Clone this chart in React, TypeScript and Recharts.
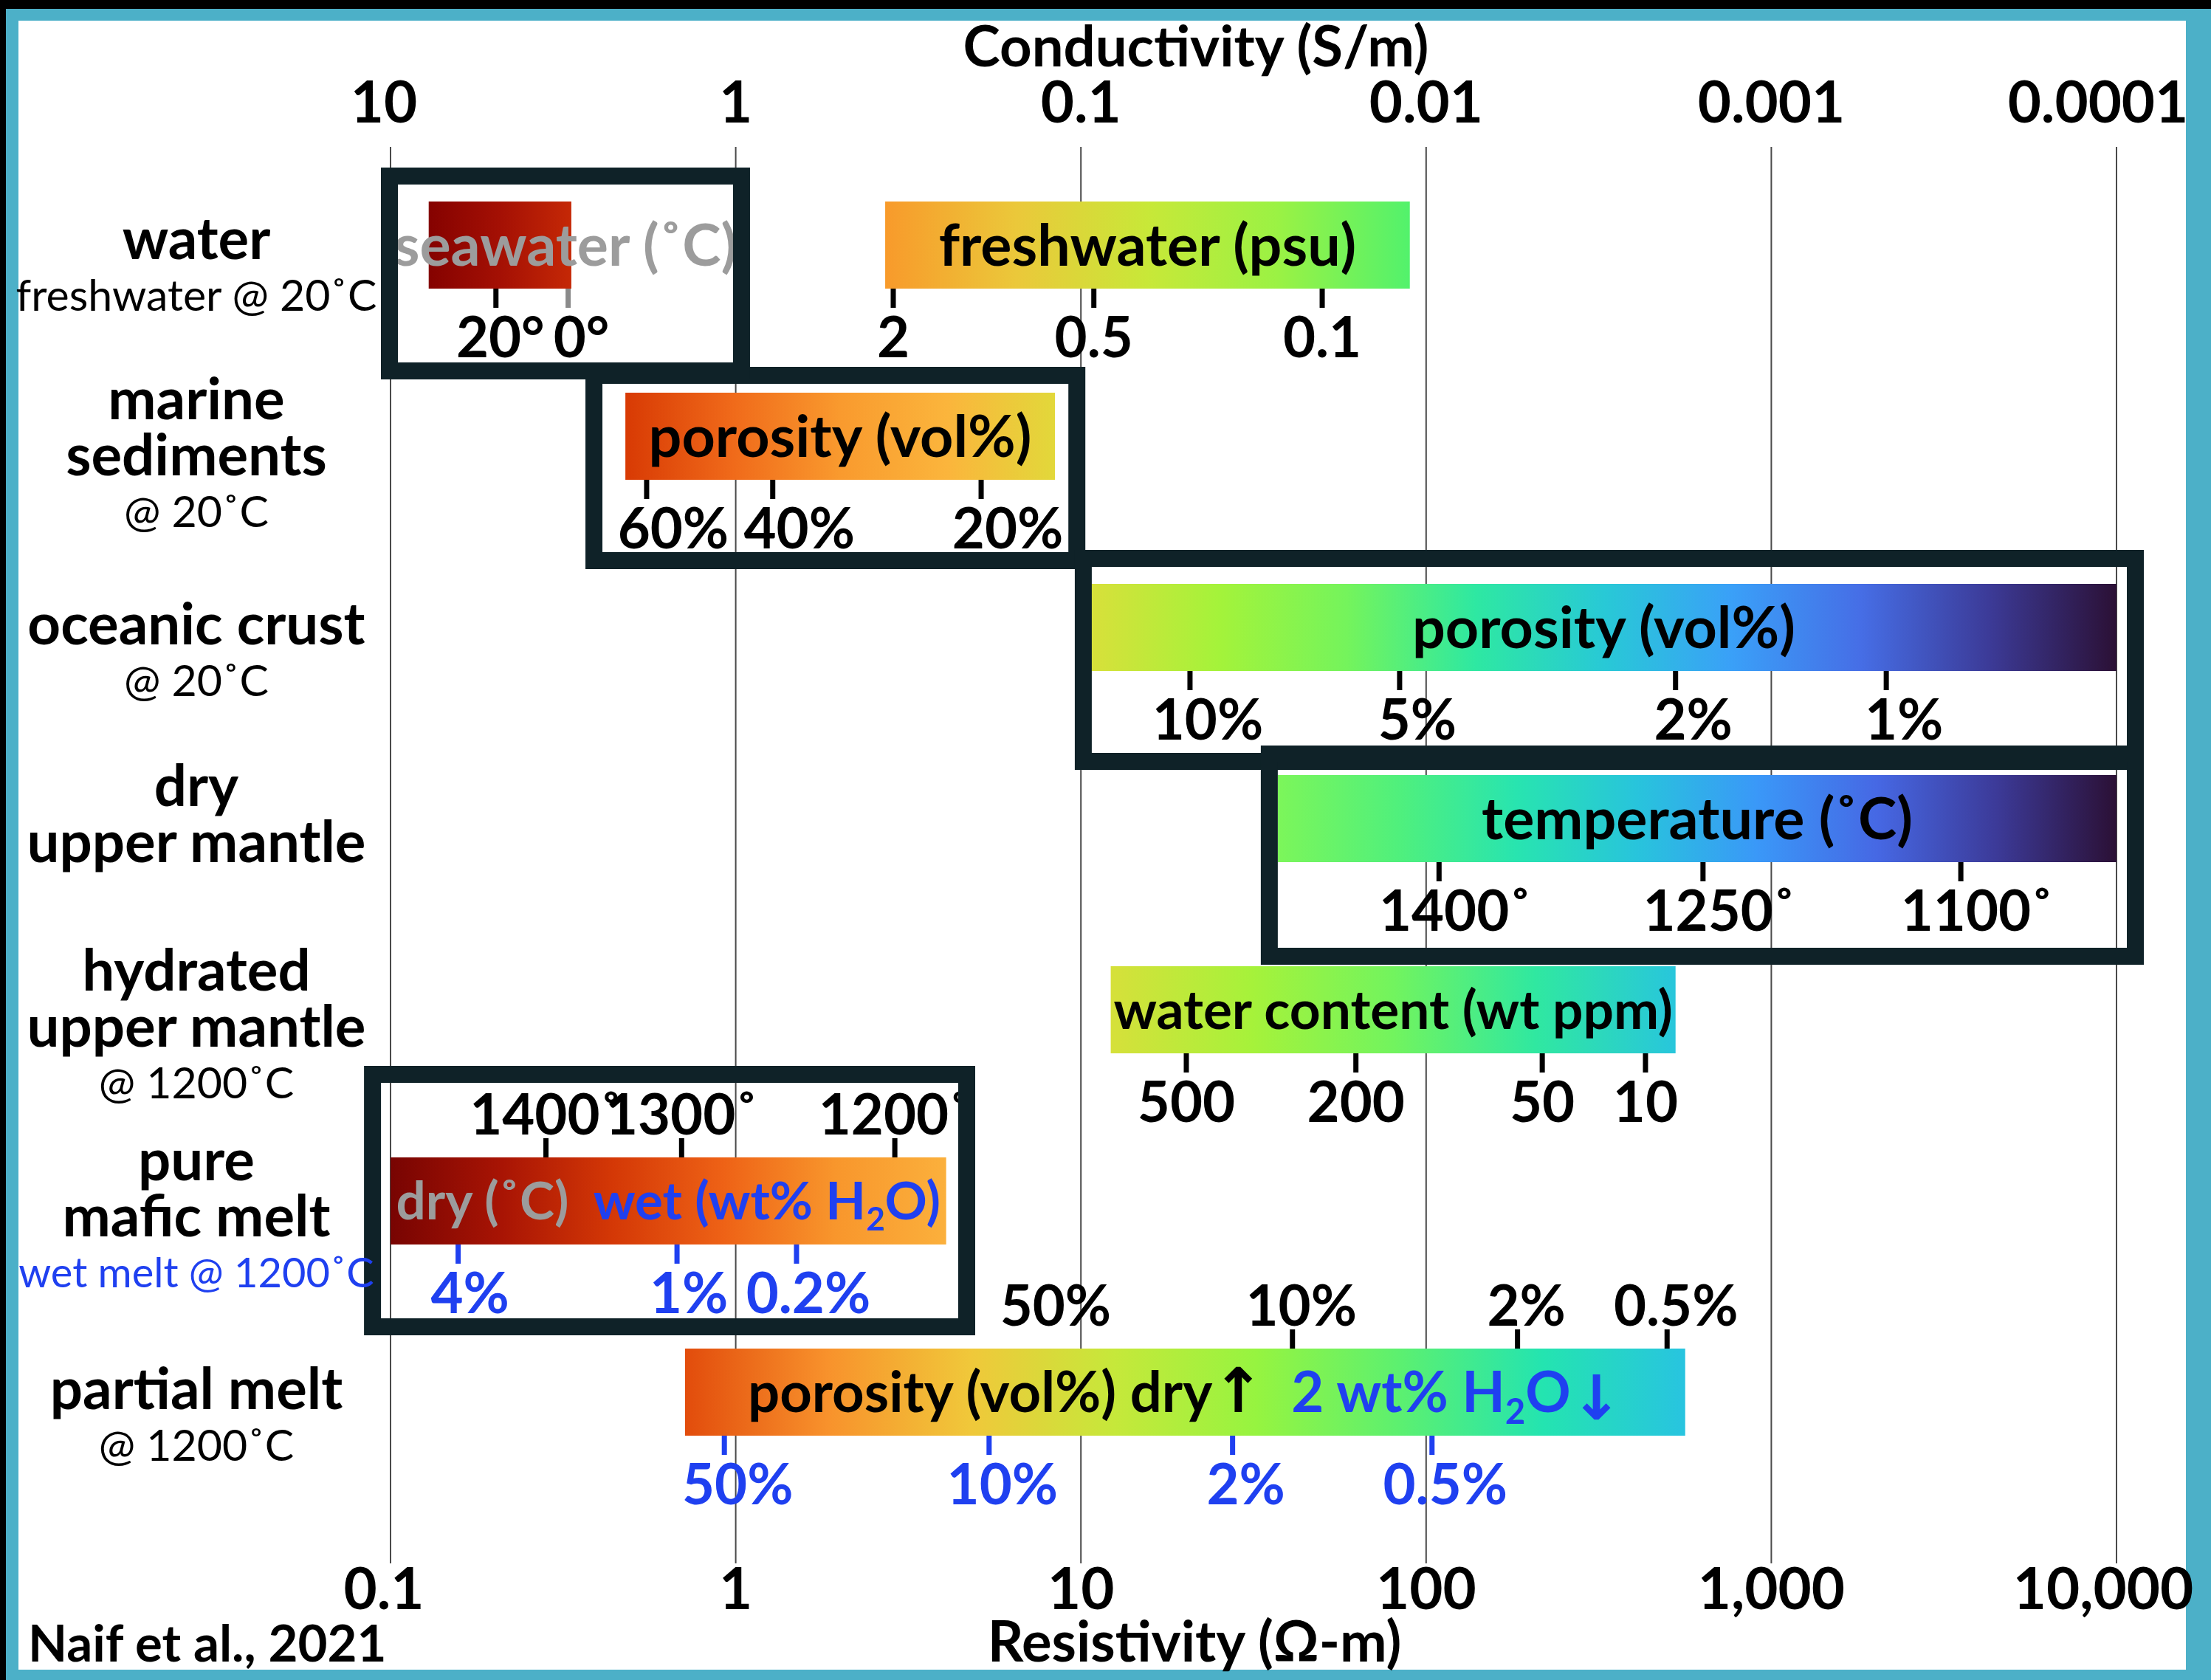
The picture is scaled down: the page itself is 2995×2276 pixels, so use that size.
import React from 'react';
import { BarChart, Bar, XAxis, YAxis, CartesianGrid } from 'recharts';

const categories = [
  'water',
  'marine sediments',
  'oceanic crust',
  'dry upper mantle',
  'hydrated upper mantle',
  'pure mafic melt',
  'partial melt',
];

// left captions: b = bold, s = small, w = small blue
const rowCaptions: [string, string][][] = [
  [['water', 'b'], ['freshwater @ 20˚C', 's']],
  [['marine', 'b'], ['sediments', 'b'], ['@ 20˚C', 's']],
  [['oceanic crust', 'b'], ['@ 20˚C', 's']],
  [['dry', 'b'], ['upper mantle', 'b']],
  [['hydrated', 'b'], ['upper mantle', 'b'], ['@ 1200˚C', 's']],
  [['pure', 'b'], ['mafic melt', 'b'], ['wet melt @ 1200˚C', 'w']],
  [['partial melt', 'b'], ['@ 1200˚C', 's']],
];

// resistivity span of each bar (ohm-m)
const rangeLow = [2.71, 0.479, 10.7, 37.2, 12.2, 0.1, 0.713];
const rangeHigh = [89.7, 8.41, 10000, 10000, 528, 4.07, 563];
const seawaterRange = [0.129, 0.334];
const seawaterTicks: [number, string][] = [[0.202, '20°'], [0.327, '0°']];

// text inside the bars: k = black, g = grey, u = blue
const barTitles: [string, string][][] = [
  [['freshwater (psu)', 'k']],
  [['porosity (vol%)', 'k']],
  [['porosity (vol%)', 'k']],
  [['temperature (˚C)', 'k']],
  [['water content (wt ppm)', 'k']],
  [['dry (˚C)', 'g'], ['  wet (wt% H_2O)', 'u']],
  [['porosity (vol%) dry', 'k'], ['↑', 'k'], ['  2 wt% H_2O', 'u'], ['↓', 'u']],
];
const seawaterTitle = 'seawater (˚C)';

// [resistivity, label, has tick mark]
const ticksBelow: [number, string, boolean][][] = [
  [[2.86, '2', true], [10.9, '0.5', true], [50.0, '0.1', true]],
  [[0.552, '60%', true], [1.28, '40%', true], [5.14, '20%', true]],
  [[20.7, '10%', true], [83.8, '5%', true], [528, '2%', true], [2153, '1%', true]],
  [[109, '1400˚', true], [634, '1250˚', true], [3540, '1100˚', true]],
  [[20.2, '500', true], [62.6, '200', true], [217, '50', true], [432, '10', true]],
  [[0.157, '4%', true], [0.676, '1%', true], [1.5, '0.2%', true]],
  [[0.927, '50%', true], [5.42, '10%', true], [27.5, '2%', true], [104, '0.5%', true]],
];
const ticksAbove: [number, string, boolean][][] = [
  [],
  [],
  [],
  [],
  [],
  [[0.282, '1400˚', true], [0.697, '1300˚', true], [2.89, '1200˚', true]],
  [[7.96, '50%', false], [41.0, '10%', true], [184, '2%', true], [499, '0.5%', true]],
];

const resistivityTicks = [0.1, 1, 10, 100, 1000, 10000];
const resistivityLabels = ['0.1', '1', '10', '100', '1,000', '10,000'];
const conductivityLabels = ['10', '1', '0.1', '0.01', '0.001', '0.0001'];

const data = categories.map((name, i) => ({
  name,
  range: [rangeLow[i], rangeHigh[i]],
  seawater: i === 0 ? seawaterRange : null,
}));

const FONT = 'Lato, "Open Sans", "DejaVu Sans", sans-serif';
const BLUE = '#1f40f0';
const GREY = '#9c9c9c';
const BOX = '#0f2228';
const TEAL = '#4cb0c8';

const gradients: Record<string, string[]> = {
  'g-sea': ['#850200', '#a41004', '#c52806'],
  'g-range-0': ['#f89a2b', '#ebc83a', '#c8e838', '#9af244', '#52f26c'],
  'g-range-1': ['#d83a04', '#f06a1a', '#f99a2e', '#fbb53c', '#e2d83a'],
  'g-range-2': ['#d8e03a', '#a4f33a', '#74f45c', '#2ee8a2', '#28c9d6', '#3aa0f8', '#466ee6', '#3c3b98', '#2b1035'],
  'g-range-3': ['#7cf65a', '#50f07c', '#28e4b0', '#28c4dc', '#3a98f8', '#4668e4', '#3c3a98', '#2b1035'],
  'g-range-4': ['#d6e03a', '#a6f23a', '#72f45e', '#30e8a0', '#28c6dc'],
  'g-range-5': ['#780402', '#a81404', '#d43806', '#ee6216', '#f8962c', '#fbb03c'],
  'g-range-6': ['#e24c0c', '#f8922c', '#f0c83a', '#c6e83a', '#96f440', '#5cf070', '#24e4b0', '#28c4e0'],
};

// outlined boxes: x extent in ohm-m, y offsets from the bar edges
const boxes: Record<string, { lo: number; hi: number; top: number; bottom: number }> = {
  'seawater-0': { lo: 0.0938, hi: 1.1, top: -46, bottom: 123 },
  'range-1': { lo: 0.367, hi: 10.3, top: -35, bottom: 121 },
  'range-2': { lo: 9.6, hi: 12000, top: -46, bottom: 134 },
  'range-3': { lo: 33.2, hi: 12000, top: -40, bottom: 139 },
  'range-5': { lo: 0.0838, hi: 4.94, top: -124, bottom: 123 },
};

const titleSize = [79, 79, 79, 79, 73, 71, 76];
const captionShift = [34, 30, 38, -2, 27, 25, 38];
const pctShift = [18, 36, 24, 18, 18, 16, 18];
const BOX_W = 23;
const TICK_FS = 76;

const colorOf = (c: string) => (c === 'u' ? BLUE : c === 'g' ? GREY : '#000');

const renderSegments = (segs: [string, string][], fs: number) =>
  segs.map(([txt, col], k) => {
    const fill = colorOf(col);
    if (txt.includes('_2')) {
      const [a, b] = txt.split('_2');
      return (
        <React.Fragment key={k}>
          <tspan fill={fill}>{a}</tspan>
          <tspan fill={fill} fontSize={fs * 0.62} dy={fs * 0.22}>2</tspan>
          <tspan fill={fill} dy={-fs * 0.22}>{b}</tspan>
        </React.Fragment>
      );
    }
    if (txt === '↑' || txt === '↓') {
      return (
        <tspan key={k} fill={fill} fontFamily="DejaVu Sans" fontWeight={700} fontSize={fs * 1.1} dy={txt === '↓' ? fs * 0.14 : 0}>
          {txt}
        </tspan>
      );
    }
    return <tspan key={k} fill={fill}>{txt}</tspan>;
  });

const labelShift = (s: string, above: boolean, row: number) => {
  if (s.endsWith('%')) return above ? 12 : pctShift[row];
  if (s.endsWith('˚')) return above ? 0 : 22;
  if (s.endsWith('°')) return s.length < 3 ? 18 : 6;
  return 0;
};

function renderBar(series: 'range' | 'seawater') {
  return (props: any) => {
    const { x, y, width, height, index } = props;
    if (series === 'seawater' && index !== 0) return <g />;
    if (!Number.isFinite(x) || !Number.isFinite(width) || width <= 0) return <g />;
    const lo = series === 'range' ? rangeLow[index] : seawaterRange[0];
    const hi = series === 'range' ? rangeHigh[index] : seawaterRange[1];
    const lg = Math.log10;
    const px = (v: number) => x + (width * (lg(v) - lg(lo))) / (lg(hi) - lg(lo));
    const gid = series === 'range' ? `g-range-${index}` : 'g-sea';
    const box = boxes[`${series}-${index}`];
    const below = series === 'range' ? ticksBelow[index] : seawaterTicks.map(([v, l]) => [v, l, true] as [number, string, boolean]);
    const above = series === 'range' ? ticksAbove[index] : [];
    const blueBelow = series === 'range' && index >= 5;
    const cy = y + height / 2;
    const fs = series === 'range' ? titleSize[index] : 79;
    const titleX = series === 'seawater' && box ? (px(box.lo) + px(box.hi)) / 2 : x + width / 2;
    const bottom = y + height;

    return (
      <g>
        <rect x={x} y={y} width={width} height={height} fill={`url(#${gid})`} />
        {below.map(([v, lab, mark], k) => {
          const tx = px(v);
          const markColor = series === 'seawater' && k === 1 ? '#8a8a8a' : blueBelow ? BLUE : '#000';
          return (
            <g key={`b${k}`}>
              {mark && <line x1={tx} x2={tx} y1={bottom} y2={bottom + 26} stroke={markColor} strokeWidth={7} />}
              <text
                x={tx + labelShift(lab, false, index)}
                y={bottom + 66 + TICK_FS * 0.36}
                textAnchor="middle"
                fontFamily={FONT}
                fontWeight={700}
                fontSize={TICK_FS}
                fill={blueBelow ? BLUE : '#000'}
              >
                {lab}
              </text>
            </g>
          );
        })}
        {above.map(([v, lab, mark], k) => {
          const tx = px(v);
          return (
            <g key={`a${k}`}>
              {mark && <line x1={tx} x2={tx} y1={y} y2={y - 26} stroke="#000" strokeWidth={7} />}
              <text
                x={tx + labelShift(lab, true, index)}
                y={y - 58 + TICK_FS * 0.36}
                textAnchor="middle"
                fontFamily={FONT}
                fontWeight={700}
                fontSize={TICK_FS}
                fill="#000"
              >
                {lab}
              </text>
            </g>
          );
        })}
        <text
          x={titleX}
          y={cy + fs * 0.35}
          textAnchor="middle"
          fontFamily={FONT}
          fontWeight={700}
          fontSize={fs}
          style={{ whiteSpace: 'pre' }}
        >
          {series === 'seawater' ? <tspan fill={GREY}>{seawaterTitle}</tspan> : renderSegments(barTitles[index], fs)}
        </text>
        {box && (
          <rect
            x={px(box.lo) + BOX_W / 2}
            y={y + box.top + BOX_W / 2}
            width={px(box.hi) - px(box.lo) - BOX_W}
            height={height - box.top + box.bottom - BOX_W}
            fill="none"
            stroke={BOX}
            strokeWidth={BOX_W}
          />
        )}
      </g>
    );
  };
}

const RowCaption = (props: any) => {
  const { y, payload } = props;
  const i = categories.indexOf(payload.value);
  if (i < 0) return <g />;
  const lines = rowCaptions[i];
  const n = lines.length;
  return (
    <g>
      {lines.map(([t, kind], k) => {
        const ly = y + captionShift[i] + (k - (n - 1) / 2) * 76;
        const fs = kind === 'b' ? 78 : kind === 'w' ? 56 : 59;
        return (
          <text
            key={k}
            x={266}
            y={ly + fs * 0.3}
            textAnchor="middle"
            fontFamily={FONT}
            fontWeight={kind === 'b' ? 700 : 400}
            fontSize={fs}
            fill={kind === 'w' ? BLUE : '#000'}
          >
            {t}
          </text>
        );
      })}
    </g>
  );
};

const AxisTick = (props: any) => {
  const { x, y, payload, top } = props;
  const i = resistivityTicks.indexOf(payload.value);
  const labels = top ? conductivityLabels : resistivityLabels;
  const shift = i === 5 ? (top ? -25 : -18) : i === 0 ? -9 : 0;
  return (
    <text x={x + shift} y={y} textAnchor="middle" fontFamily={FONT} fontWeight={700} fontSize={78} fill="#000">
      {labels[i]}
    </text>
  );
};

export default function App() {
  return (
    <div style={{ position: 'absolute', left: 0, top: 0, width: 2995, height: 2276, background: '#000' }}>
      <div style={{ position: 'absolute', left: 8, top: 12, right: 0, bottom: 0, background: TEAL }} />
      <div style={{ position: 'absolute', left: 25, top: 28, right: 34, bottom: 14, background: '#fff' }} />
      <div style={{ position: 'absolute', left: 0, top: 0 }}>
        <BarChart
          width={2995}
          height={2276}
          data={data}
          layout="vertical"
          margin={{ top: 0, right: 128, bottom: 0, left: 0 }}
          barSize={118}
          barGap={-118}
        >
          <defs>
            {Object.entries(gradients).map(([id, stops]) => (
              <linearGradient key={id} id={id} x1="0" y1="0" x2="1" y2="0">
                {stops.map((c, k) => (
                  <stop key={k} offset={`${(k / (stops.length - 1)) * 100}%`} stopColor={c} />
                ))}
              </linearGradient>
            ))}
          </defs>
          <CartesianGrid horizontal={false} stroke="#4a4a4a" strokeWidth={2} />
          <XAxis
            type="number"
            scale="log"
            domain={[0.1, 10000]}
            ticks={resistivityTicks}
            interval={0}
            axisLine={false}
            tickLine={false}
            tickSize={0}
            tickMargin={62}
            height={158}
            tick={(p: any) => <AxisTick {...p} />}
            label={{
              value: 'Resistivity (Ω-m)',
              position: 'insideBottom',
              offset: 25,
              dx: -80,
              fontSize: 76,
              fontWeight: 700,
              fontFamily: FONT,
              fill: '#000',
            }}
          />
          <XAxis
            xAxisId="top"
            orientation="top"
            type="number"
            scale="log"
            domain={[0.1, 10000]}
            ticks={resistivityTicks}
            interval={0}
            axisLine={false}
            tickLine={false}
            tickSize={0}
            tickMargin={33}
            height={199}
            tick={(p: any) => <AxisTick {...p} top />}
            label={{
              value: 'Conductivity (S/m)',
              position: 'insideTop',
              offset: 36,
              dx: -78,
              fontSize: 76,
              fontWeight: 700,
              fontFamily: FONT,
              fill: '#000',
            }}
          />
          <YAxis
            type="category"
            dataKey="name"
            width={529}
            axisLine={false}
            tickLine={false}
            interval={0}
            padding={{ top: 3, bottom: 103 }}
            tick={(p: any) => <RowCaption {...p} />}
          />
          <Bar dataKey="range" isAnimationActive={false} shape={renderBar('range')} />
          <Bar dataKey="seawater" xAxisId="top" isAnimationActive={false} shape={renderBar('seawater')} />
        </BarChart>
      </div>
      <svg width={2995} height={2276} style={{ position: 'absolute', left: 0, top: 0, pointerEvents: 'none' }}>
        <text x={38} y={2251} fontFamily={FONT} fontWeight={700} fontSize={69} fill="#000">
          Naif et al., 2021
        </text>
      </svg>
    </div>
  );
}
